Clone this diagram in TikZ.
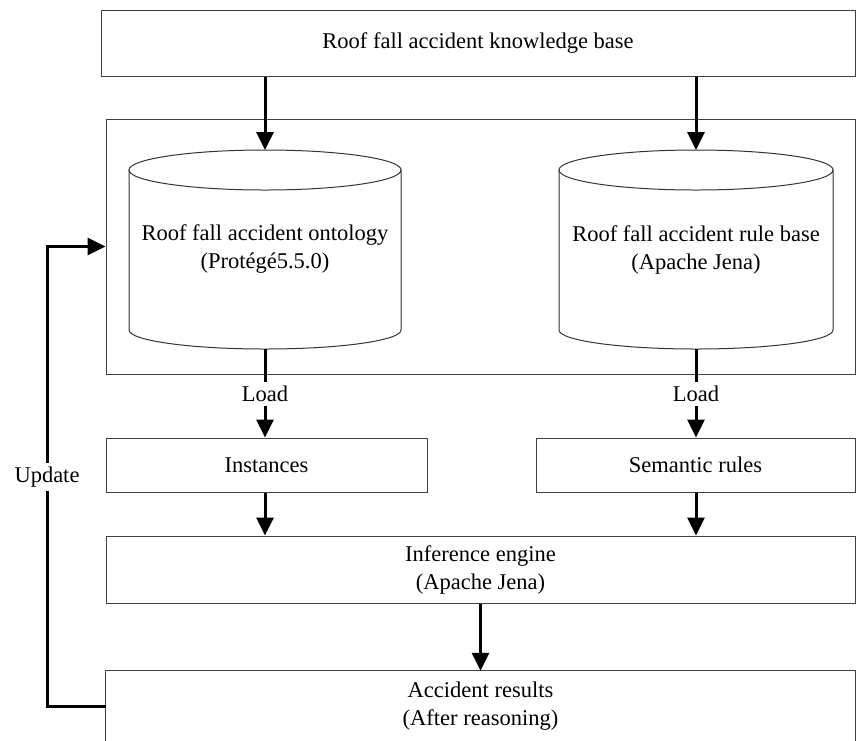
\documentclass[tikz,border=0pt]{standalone}
\usepackage{fontspec}
\setmainfont{Liberation Serif}
\usetikzlibrary{arrows.meta}
\begin{document}
\begin{tikzpicture}[x=1pt,y=-1pt,
  boxline/.style={draw=black!75, line width=1pt},
  box/.style={boxline, rectangle, inner sep=0pt, align=center, font=\fontsize{22.5}{28}\selectfont},
  txt/.style={inner sep=4pt, align=center, font=\fontsize{22.5}{28}\selectfont},
  flow/.style={line width=3pt, -{Triangle[width=17pt,length=18pt]}},
  plain/.style={line width=3pt},
  cyl/.style={draw=black!80, line width=1pt}]
\useasboundingbox (0,0) rectangle (856,740);
\clip (0,0) rectangle (856,740);

% knowledge base
\node[box, minimum width=754pt, minimum height=66pt] (kb) at (478,43) {Roof fall accident knowledge base};

% outer container
\node[boxline, rectangle, inner sep=0pt, minimum width=749pt, minimum height=255pt] (ob) at (480.5,246.5) {};

% cylinders
\draw[cyl] (129,170) -- (129,330) arc[start angle=180, end angle=360, x radius=136pt, y radius=19pt] -- (401,170);
\draw[cyl] (265,170) ellipse [x radius=136pt, y radius=20pt];
\draw[cyl] (559,170) -- (559,330) arc[start angle=180, end angle=360, x radius=137pt, y radius=19pt] -- (833,170);
\draw[cyl] (696,170) ellipse [x radius=137pt, y radius=20pt];
\coordinate (ontTop) at (265,150);
\coordinate (ontBot) at (265,349);
\coordinate (rbTop) at (696,150);
\coordinate (rbBot) at (696,349);
\node[txt] (ont) at (265,249) {Roof fall accident ontology\\(Protégé5.5.0)};
\node[txt] (rb) at (696,250) {Roof fall accident rule base\\(Apache Jena)};

\draw[flow] (kb.south -| ontTop) -- (ontTop);
\draw[flow] (kb.south -| rbTop) -- (rbTop);

% load labels
\node[txt] (l1) at (265,394) {Load};
\node[txt] (l2) at (696,394) {Load};

% instances and rules
\node[box, minimum width=321pt, minimum height=54pt] (inst) at (266.5,465) {Instances};
\node[box, minimum width=319pt, minimum height=54pt] (sem) at (695.5,465) {Semantic rules};

\draw[plain] (ontBot) -- (l1.north);
\draw[flow] (l1.south) -- (l1.south |- inst.north);
\draw[plain] (rbBot) -- (l2.north);
\draw[flow] (l2.south) -- (l2.south |- sem.north);

% inference engine
\node[box, minimum width=749pt, minimum height=67pt] (eng) at (480.5,569.5) {Inference engine\\(Apache Jena)};
\draw[flow] (inst.south -| l1) -- (eng.north -| l1);
\draw[flow] (sem.south -| l2) -- (eng.north -| l2);

% results
\node[inner sep=0pt, minimum width=749pt, minimum height=70pt, align=center, font=\fontsize{22.5}{28}\selectfont] (res) at (480.5,706) {Accident results\\(After reasoning)};
\draw[boxline] ([yshift=-40pt]res.south west) -- (res.north west) -- (res.north east) -- ([yshift=-40pt]res.south east);
\draw[flow] (eng.south) -- (res.north);

% update loop
\node[txt] (upd) at (47,477) {Update};
\draw[plain] (res.west) -| (upd.south);
\draw[flow] (upd.north) |- (ob.west);
\end{tikzpicture}
\end{document}
